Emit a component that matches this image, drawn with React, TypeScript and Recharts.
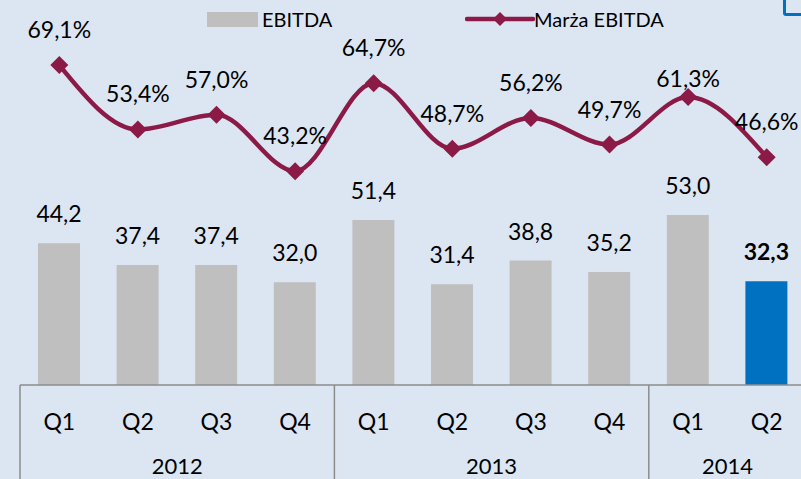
import { Bar, Cell, ComposedChart, LabelList, Legend, Line, XAxis, YAxis } from "recharts"

const quarters = ["Q1", "Q2", "Q3", "Q4", "Q1", "Q2", "Q3", "Q4", "Q1", "Q2"]
const years = ["2012", "2012", "2012", "2012", "2013", "2013", "2013", "2013", "2014", "2014"]
const ebitda = [44.2, 37.4, 37.4, 32.0, 51.4, 31.4, 38.8, 35.2, 53.0, 32.3]
const margin = [69.1, 53.4, 57.0, 43.2, 64.7, 48.7, 56.2, 49.7, 61.3, 46.6]

const data = quarters.map((q, i) => ({
  quarter: q,
  year: years[i],
  ebitda: ebitda[i],
  margin: margin[i],
}))

const CHART_W = 806
const LEFT = 20
const BAND = (CHART_W - LEFT) / data.length
const FONT = "Lato, 'Open Sans', sans-serif"
const BAR_GREY = "#bfbfbf"
const BAR_BLUE = "#0070c0"
const LINE_COLOR = "#8b1a47"
const AXIS_COLOR = "#8c8c8c"

const fmt = (v: number) => v.toFixed(1).replace(".", ",")

function XTick(props: any) {
  const { x, y, payload } = props
  const i = payload.index
  const row = data[i]
  const left = x - BAND / 2
  const first = i === 0 || data[i - 1].year !== row.year
  let span = 0
  if (first) {
    for (let j = i; j < data.length && data[j].year === row.year; j++) span++
  }
  return (
    <g>
      <text x={x} y={y + 36} textAnchor="middle" dominantBaseline="central" fontSize={23} fill="#000" fontFamily={FONT}>
        {payload.value}
      </text>
      {first && (
        <>
          <line x1={left} x2={left} y1={y} y2={y + 100} stroke={AXIS_COLOR} strokeWidth={1.5} />
          <text x={left + (span * BAND) / 2} y={y + 80} textAnchor="middle" dominantBaseline="central" fontSize={22} fill="#000" fontFamily={FONT}>
            {row.year}
          </text>
        </>
      )}
    </g>
  )
}

function BarLabel(props: any) {
  const { x, y, width, value, index } = props
  const last = index === data.length - 1
  return (
    <text x={x + width / 2} y={y - 30} textAnchor="middle" dominantBaseline="central" fontSize={23} fontWeight={last ? 700 : 400} fill="#000" fontFamily={FONT}>
      {fmt(value)}
    </text>
  )
}

function LineLabel(props: any) {
  const { x, y, value, index } = props
  const off = index === 8 ? 19 : 36
  return (
    <text x={x} y={y - off} textAnchor="middle" dominantBaseline="central" fontSize={23} fill="#000" fontFamily={FONT}>
      {fmt(value) + "%"}
    </text>
  )
}

function Diamond(props: any) {
  const { cx, cy } = props
  if (cx == null || cy == null) return null
  const r = 9
  return <path d={`M${cx},${cy - r}L${cx + r},${cy}L${cx},${cy + r}L${cx - r},${cy}Z`} fill={LINE_COLOR} />
}

function LegendBox() {
  return (
    <div style={{ position: "relative", width: 801, height: 40, fontFamily: FONT, fontSize: 20, color: "#000" }}>
      <div style={{ position: "absolute", left: 207, top: 12, width: 51, height: 15, background: BAR_GREY }} />
      <span style={{ position: "absolute", left: 262, top: 7, lineHeight: "24px" }}>EBITDA</span>
      <svg style={{ position: "absolute", left: 465, top: 9 }} width={70} height={20}>
        <line x1={2} x2={68} y1={10} y2={10} stroke={LINE_COLOR} strokeWidth={4.5} strokeLinecap="round" />
        <path d="M35,3L42,10L35,17L28,10Z" fill={LINE_COLOR} />
      </svg>
      <span style={{ position: "absolute", left: 534, top: 7, lineHeight: "24px" }}>Marża EBITDA</span>
    </div>
  )
}

export default function App() {
  return (
    <div style={{ position: "absolute", top: 0, left: 0, width: 801, height: 479, overflow: "hidden", background: "#dce6f2" }}>
      <ComposedChart width={CHART_W} height={479} data={data} margin={{ top: 0, right: 0, bottom: 0, left: LEFT }}>
        <XAxis
          dataKey="quarter"
          height={94}
          tickLine={false}
          tickSize={0}
          tickMargin={0}
          interval={0}
          axisLine={{ stroke: AXIS_COLOR, strokeWidth: 1.5 }}
          tick={<XTick />}
        />
        <YAxis yAxisId="bar" hide domain={[0, 120]} />
        <YAxis yAxisId="pct" hide orientation="right" domain={[-9, 85]} />
        <Legend verticalAlign="middle" align="center" layout="horizontal" wrapperStyle={{ top: 0, left: 0, width: 801, height: 40 }} content={<LegendBox />} />
        <Bar yAxisId="bar" dataKey="ebitda" name="EBITDA" barSize={42} isAnimationActive={false}>
          {data.map((_, i) => (
            <Cell key={i} fill={i === data.length - 1 ? BAR_BLUE : BAR_GREY} />
          ))}
          <LabelList dataKey="ebitda" content={<BarLabel />} />
        </Bar>
        <Line
          yAxisId="pct"
          dataKey="margin"
          name="Marża EBITDA"
          type="monotone"
          stroke={LINE_COLOR}
          strokeWidth={4.5}
          dot={<Diamond />}
          activeDot={false}
          isAnimationActive={false}
        >
          <LabelList dataKey="margin" content={<LineLabel />} />
        </Line>
      </ComposedChart>
      <div style={{ position: "absolute", left: 783, top: -10, width: 40, height: 20, border: "3px solid #0070c0", borderRadius: 3 }} />
    </div>
  )
}
